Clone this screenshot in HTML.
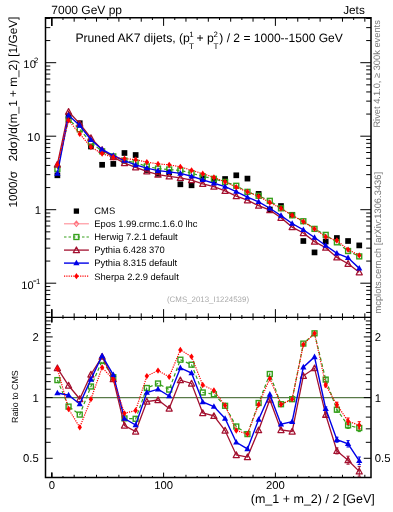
<!DOCTYPE html><html><head><meta charset="utf-8"><style>html,body{margin:0;padding:0;background:#fff;width:393px;height:512px;overflow:hidden}svg{display:block;will-change:transform}text{font-family:"Liberation Sans",sans-serif;text-rendering:geometricPrecision}</style></head><body>
<svg width="393" height="512" viewBox="0 0 393 512">
<line x1="45.5" y1="397.6" x2="371.0" y2="397.6" stroke="#587a48" stroke-width="1.2"/>
<path d="M51.8 17.7v8.2M51.8 317.35v-8.2M51.8 317.35v5M51.8 477.6v-5M62.98 17.7v2.3M62.98 317.35v-2.3M62.98 317.35v1.6M62.98 477.6v-1.6M74.16 17.7v4M74.16 317.35v-4M74.16 317.35v2.8M74.16 477.6v-2.8M85.34 17.7v2.3M85.34 317.35v-2.3M85.34 317.35v1.6M85.34 477.6v-1.6M96.52 17.7v4M96.52 317.35v-4M96.52 317.35v2.8M96.52 477.6v-2.8M107.7 17.7v2.3M107.7 317.35v-2.3M107.7 317.35v1.6M107.7 477.6v-1.6M118.88 17.7v4M118.88 317.35v-4M118.88 317.35v2.8M118.88 477.6v-2.8M130.06 17.7v2.3M130.06 317.35v-2.3M130.06 317.35v1.6M130.06 477.6v-1.6M141.24 17.7v4M141.24 317.35v-4M141.24 317.35v2.8M141.24 477.6v-2.8M152.42 17.7v2.3M152.42 317.35v-2.3M152.42 317.35v1.6M152.42 477.6v-1.6M163.6 17.7v8.2M163.6 317.35v-8.2M163.6 317.35v5M163.6 477.6v-5M174.78 17.7v2.3M174.78 317.35v-2.3M174.78 317.35v1.6M174.78 477.6v-1.6M185.96 17.7v4M185.96 317.35v-4M185.96 317.35v2.8M185.96 477.6v-2.8M197.14 17.7v2.3M197.14 317.35v-2.3M197.14 317.35v1.6M197.14 477.6v-1.6M208.32 17.7v4M208.32 317.35v-4M208.32 317.35v2.8M208.32 477.6v-2.8M219.5 17.7v2.3M219.5 317.35v-2.3M219.5 317.35v1.6M219.5 477.6v-1.6M230.68 17.7v4M230.68 317.35v-4M230.68 317.35v2.8M230.68 477.6v-2.8M241.86 17.7v2.3M241.86 317.35v-2.3M241.86 317.35v1.6M241.86 477.6v-1.6M253.04 17.7v4M253.04 317.35v-4M253.04 317.35v2.8M253.04 477.6v-2.8M264.22 17.7v2.3M264.22 317.35v-2.3M264.22 317.35v1.6M264.22 477.6v-1.6M275.4 17.7v8.2M275.4 317.35v-8.2M275.4 317.35v5M275.4 477.6v-5M286.58 17.7v2.3M286.58 317.35v-2.3M286.58 317.35v1.6M286.58 477.6v-1.6M297.76 17.7v4M297.76 317.35v-4M297.76 317.35v2.8M297.76 477.6v-2.8M308.94 17.7v2.3M308.94 317.35v-2.3M308.94 317.35v1.6M308.94 477.6v-1.6M320.12 17.7v4M320.12 317.35v-4M320.12 317.35v2.8M320.12 477.6v-2.8M331.3 17.7v2.3M331.3 317.35v-2.3M331.3 317.35v1.6M331.3 477.6v-1.6M342.48 17.7v4M342.48 317.35v-4M342.48 317.35v2.8M342.48 477.6v-2.8M353.66 17.7v2.3M353.66 317.35v-2.3M353.66 317.35v1.6M353.66 477.6v-1.6M364.84 17.7v4M364.84 317.35v-4M364.84 317.35v2.8M364.84 477.6v-2.8M45.5 312.45h4.8M371 312.45h-4.8M45.5 305.33h4.8M371 305.33h-4.8M45.5 299.51h4.8M371 299.51h-4.8M45.5 294.59h4.8M371 294.59h-4.8M45.5 290.32h4.8M371 290.32h-4.8M45.5 286.56h4.8M371 286.56h-4.8M45.5 283.2h10.7M371 283.2h-10.7M45.5 261.07h4.8M371 261.07h-4.8M45.5 248.13h4.8M371 248.13h-4.8M45.5 238.95h4.8M371 238.95h-4.8M45.5 231.83h4.8M371 231.83h-4.8M45.5 226.01h4.8M371 226.01h-4.8M45.5 221.09h4.8M371 221.09h-4.8M45.5 216.82h4.8M371 216.82h-4.8M45.5 213.06h4.8M371 213.06h-4.8M45.5 209.7h10.7M371 209.7h-10.7M45.5 187.57h4.8M371 187.57h-4.8M45.5 174.63h4.8M371 174.63h-4.8M45.5 165.45h4.8M371 165.45h-4.8M45.5 158.33h4.8M371 158.33h-4.8M45.5 152.51h4.8M371 152.51h-4.8M45.5 147.59h4.8M371 147.59h-4.8M45.5 143.32h4.8M371 143.32h-4.8M45.5 139.56h4.8M371 139.56h-4.8M45.5 136.2h10.7M371 136.2h-10.7M45.5 114.07h4.8M371 114.07h-4.8M45.5 101.13h4.8M371 101.13h-4.8M45.5 91.95h4.8M371 91.95h-4.8M45.5 84.83h4.8M371 84.83h-4.8M45.5 79.01h4.8M371 79.01h-4.8M45.5 74.09h4.8M371 74.09h-4.8M45.5 69.82h4.8M371 69.82h-4.8M45.5 66.06h4.8M371 66.06h-4.8M45.5 62.7h10.7M371 62.7h-10.7M45.5 40.57h4.8M371 40.57h-4.8M45.5 27.63h4.8M371 27.63h-4.8M45.5 18.45h4.8M371 18.45h-4.8M45.5 458.29h7.2M371 458.29h-7.2M45.5 442.32h5.2M371 442.32h-5.2M45.5 428.83h5.2M371 428.83h-5.2M45.5 417.14h5.2M371 417.14h-5.2M45.5 406.82h5.2M371 406.82h-5.2M45.5 397.6h7.2M371 397.6h-7.2M45.5 389.26h5.2M371 389.26h-5.2M45.5 381.64h5.2M371 381.64h-5.2M45.5 374.63h5.2M371 374.63h-5.2M45.5 368.14h5.2M371 368.14h-5.2M45.5 362.1h5.2M371 362.1h-5.2M45.5 356.45h5.2M371 356.45h-5.2M45.5 351.14h5.2M371 351.14h-5.2M45.5 346.14h5.2M371 346.14h-5.2M45.5 341.4h5.2M371 341.4h-5.2M45.5 336.91h7.2M371 336.91h-7.2M45.5 332.64h5.2M371 332.64h-5.2M45.5 328.57h5.2M371 328.57h-5.2M45.5 324.68h5.2M371 324.68h-5.2M45.5 320.95h5.2M371 320.95h-5.2M45.5 317.38h5.2M371 317.38h-5.2" stroke="#000" stroke-width="1" fill="none"/>
<clipPath id="cm"><rect x="45.5" y="17.7" width="325.5" height="299.65000000000003"/></clipPath>
<clipPath id="cr"><rect x="45.5" y="317.35" width="325.5" height="160.25"/></clipPath>
<g clip-path="url(#cm)">
<rect x="54.54" y="172.45" width="5.7" height="5.7" fill="#000"/>
<rect x="65.72" y="113.35" width="5.7" height="5.7" fill="#000"/>
<rect x="76.9" y="120.35" width="5.7" height="5.7" fill="#000"/>
<rect x="88.08" y="143.65" width="5.7" height="5.7" fill="#000"/>
<rect x="99.26" y="161.95" width="5.7" height="5.7" fill="#000"/>
<rect x="110.44" y="161.05" width="5.7" height="5.7" fill="#000"/>
<rect x="121.62" y="150.15" width="5.7" height="5.7" fill="#000"/>
<rect x="132.8" y="152.15" width="5.7" height="5.7" fill="#000"/>
<rect x="143.98" y="167.15" width="5.7" height="5.7" fill="#000"/>
<rect x="155.16" y="170.95" width="5.7" height="5.7" fill="#000"/>
<rect x="166.34" y="169.65" width="5.7" height="5.7" fill="#000"/>
<rect x="177.52" y="181.45" width="5.7" height="5.7" fill="#000"/>
<rect x="188.7" y="182.45" width="5.7" height="5.7" fill="#000"/>
<rect x="199.88" y="175.45" width="5.7" height="5.7" fill="#000"/>
<rect x="211.06" y="177.25" width="5.7" height="5.7" fill="#000"/>
<rect x="222.24" y="176.15" width="5.7" height="5.7" fill="#000"/>
<rect x="233.42" y="172.45" width="5.7" height="5.7" fill="#000"/>
<rect x="244.6" y="175.75" width="5.7" height="5.7" fill="#000"/>
<rect x="255.78" y="191.05" width="5.7" height="5.7" fill="#000"/>
<rect x="266.96" y="206.65" width="5.7" height="5.7" fill="#000"/>
<rect x="278.14" y="203.15" width="5.7" height="5.7" fill="#000"/>
<rect x="289.32" y="211.95" width="5.7" height="5.7" fill="#000"/>
<rect x="300.5" y="238.15" width="5.7" height="5.7" fill="#000"/>
<rect x="311.68" y="249.55" width="5.7" height="5.7" fill="#000"/>
<rect x="322.86" y="238.65" width="5.7" height="5.7" fill="#000"/>
<rect x="334.04" y="235.15" width="5.7" height="5.7" fill="#000"/>
<rect x="345.22" y="238.15" width="5.7" height="5.7" fill="#000"/>
<rect x="356.4" y="242.55" width="5.7" height="5.7" fill="#000"/>
<polyline points="57.39,168.85 68.57,119.41 79.75,129.33 90.93,142.38 102.11,151.31 113.29,156.39 124.47,160.51 135.65,162.66 146.83,166.43 158.01,168.59 169.19,169.51 180.37,170.41 191.55,173.23 202.73,176.37 213.91,178.82 225.09,181.92 236.27,185.76 247.45,191.83 258.63,195.8 269.81,200.82 280.99,208.33 292.17,215.31 303.35,221.24 314.53,228.88 325.71,234.86 336.89,242.34 348.07,251.03 359.25,256.41" fill="none" stroke="#36a01c" stroke-width="1.2" stroke-dasharray="3.5 2.5"/>
<rect x="54.94" y="166.4" width="4.9" height="4.9" fill="none" stroke="#36a01c" stroke-width="1.4"/>
<rect x="66.12" y="116.96" width="4.9" height="4.9" fill="none" stroke="#36a01c" stroke-width="1.4"/>
<rect x="77.3" y="126.88" width="4.9" height="4.9" fill="none" stroke="#36a01c" stroke-width="1.4"/>
<rect x="88.48" y="139.93" width="4.9" height="4.9" fill="none" stroke="#36a01c" stroke-width="1.4"/>
<rect x="99.66" y="148.86" width="4.9" height="4.9" fill="none" stroke="#36a01c" stroke-width="1.4"/>
<rect x="110.84" y="153.94" width="4.9" height="4.9" fill="none" stroke="#36a01c" stroke-width="1.4"/>
<rect x="122.02" y="158.06" width="4.9" height="4.9" fill="none" stroke="#36a01c" stroke-width="1.4"/>
<rect x="133.2" y="160.21" width="4.9" height="4.9" fill="none" stroke="#36a01c" stroke-width="1.4"/>
<rect x="144.38" y="163.98" width="4.9" height="4.9" fill="none" stroke="#36a01c" stroke-width="1.4"/>
<rect x="155.56" y="166.14" width="4.9" height="4.9" fill="none" stroke="#36a01c" stroke-width="1.4"/>
<rect x="166.74" y="167.06" width="4.9" height="4.9" fill="none" stroke="#36a01c" stroke-width="1.4"/>
<rect x="177.92" y="167.96" width="4.9" height="4.9" fill="none" stroke="#36a01c" stroke-width="1.4"/>
<rect x="189.1" y="170.78" width="4.9" height="4.9" fill="none" stroke="#36a01c" stroke-width="1.4"/>
<rect x="200.28" y="173.92" width="4.9" height="4.9" fill="none" stroke="#36a01c" stroke-width="1.4"/>
<rect x="211.46" y="176.37" width="4.9" height="4.9" fill="none" stroke="#36a01c" stroke-width="1.4"/>
<rect x="222.64" y="179.47" width="4.9" height="4.9" fill="none" stroke="#36a01c" stroke-width="1.4"/>
<rect x="233.82" y="183.31" width="4.9" height="4.9" fill="none" stroke="#36a01c" stroke-width="1.4"/>
<rect x="245" y="189.38" width="4.9" height="4.9" fill="none" stroke="#36a01c" stroke-width="1.4"/>
<rect x="256.18" y="193.35" width="4.9" height="4.9" fill="none" stroke="#36a01c" stroke-width="1.4"/>
<rect x="267.36" y="198.37" width="4.9" height="4.9" fill="none" stroke="#36a01c" stroke-width="1.4"/>
<rect x="278.54" y="205.88" width="4.9" height="4.9" fill="none" stroke="#36a01c" stroke-width="1.4"/>
<rect x="289.72" y="212.86" width="4.9" height="4.9" fill="none" stroke="#36a01c" stroke-width="1.4"/>
<rect x="300.9" y="218.79" width="4.9" height="4.9" fill="none" stroke="#36a01c" stroke-width="1.4"/>
<rect x="312.08" y="226.43" width="4.9" height="4.9" fill="none" stroke="#36a01c" stroke-width="1.4"/>
<rect x="323.26" y="232.41" width="4.9" height="4.9" fill="none" stroke="#36a01c" stroke-width="1.4"/>
<rect x="334.44" y="239.89" width="4.9" height="4.9" fill="none" stroke="#36a01c" stroke-width="1.4"/>
<rect x="345.62" y="248.58" width="4.9" height="4.9" fill="none" stroke="#36a01c" stroke-width="1.4"/>
<rect x="356.8" y="253.96" width="4.9" height="4.9" fill="none" stroke="#36a01c" stroke-width="1.4"/>
<polyline points="57.39,164.47 68.57,111.72 79.75,123.64 90.93,138.01 102.11,149.82 113.29,157.08 124.47,163.1 135.65,167.29 146.83,171.35 158.01,174.6 169.19,176.4 180.37,177.88 191.55,180.09 202.73,183.84 213.91,186.7 225.09,190.92 236.27,196.15 247.45,200.22 258.63,205.71 269.81,210.19 280.99,217.74 292.17,227.09 303.35,232.98 314.53,241.61 325.71,247.7 336.89,257.36 348.07,263.75 359.25,272.23" fill="none" stroke="#a3102f" stroke-width="1.3"/>
<path d="M57.39 161.39L60.44 167H54.34Z" fill="none" stroke="#a3102f" stroke-width="1.25" stroke-linejoin="round"/>
<path d="M68.57 108.63L71.62 114.24H65.52Z" fill="none" stroke="#a3102f" stroke-width="1.25" stroke-linejoin="round"/>
<path d="M79.75 120.55L82.8 126.16H76.7Z" fill="none" stroke="#a3102f" stroke-width="1.25" stroke-linejoin="round"/>
<path d="M90.93 134.92L93.98 140.53H87.88Z" fill="none" stroke="#a3102f" stroke-width="1.25" stroke-linejoin="round"/>
<path d="M102.11 146.73L105.16 152.34H99.06Z" fill="none" stroke="#a3102f" stroke-width="1.25" stroke-linejoin="round"/>
<path d="M113.29 154L116.34 159.61H110.24Z" fill="none" stroke="#a3102f" stroke-width="1.25" stroke-linejoin="round"/>
<path d="M124.47 160.01L127.52 165.62H121.42Z" fill="none" stroke="#a3102f" stroke-width="1.25" stroke-linejoin="round"/>
<path d="M135.65 164.2L138.7 169.81H132.6Z" fill="none" stroke="#a3102f" stroke-width="1.25" stroke-linejoin="round"/>
<path d="M146.83 168.26L149.88 173.87H143.78Z" fill="none" stroke="#a3102f" stroke-width="1.25" stroke-linejoin="round"/>
<path d="M158.01 171.52L161.06 177.13H154.96Z" fill="none" stroke="#a3102f" stroke-width="1.25" stroke-linejoin="round"/>
<path d="M169.19 173.31L172.24 178.93H166.14Z" fill="none" stroke="#a3102f" stroke-width="1.25" stroke-linejoin="round"/>
<path d="M180.37 174.8L183.42 180.41H177.32Z" fill="none" stroke="#a3102f" stroke-width="1.25" stroke-linejoin="round"/>
<path d="M191.55 177L194.6 182.61H188.5Z" fill="none" stroke="#a3102f" stroke-width="1.25" stroke-linejoin="round"/>
<path d="M202.73 180.76L205.78 186.37H199.68Z" fill="none" stroke="#a3102f" stroke-width="1.25" stroke-linejoin="round"/>
<path d="M213.91 183.61L216.96 189.22H210.86Z" fill="none" stroke="#a3102f" stroke-width="1.25" stroke-linejoin="round"/>
<path d="M225.09 187.84L228.14 193.45H222.04Z" fill="none" stroke="#a3102f" stroke-width="1.25" stroke-linejoin="round"/>
<path d="M236.27 193.07L239.32 198.68H233.22Z" fill="none" stroke="#a3102f" stroke-width="1.25" stroke-linejoin="round"/>
<path d="M247.45 197.13L250.5 202.75H244.4Z" fill="none" stroke="#a3102f" stroke-width="1.25" stroke-linejoin="round"/>
<path d="M258.63 202.63L261.68 208.24H255.58Z" fill="none" stroke="#a3102f" stroke-width="1.25" stroke-linejoin="round"/>
<path d="M269.81 207.11L272.86 212.72H266.76Z" fill="none" stroke="#a3102f" stroke-width="1.25" stroke-linejoin="round"/>
<path d="M280.99 214.65L284.04 220.26H277.94Z" fill="none" stroke="#a3102f" stroke-width="1.25" stroke-linejoin="round"/>
<path d="M292.17 224L295.22 229.61H289.12Z" fill="none" stroke="#a3102f" stroke-width="1.25" stroke-linejoin="round"/>
<path d="M303.35 229.89L306.4 235.5H300.3Z" fill="none" stroke="#a3102f" stroke-width="1.25" stroke-linejoin="round"/>
<path d="M314.53 238.52L317.58 244.13H311.48Z" fill="none" stroke="#a3102f" stroke-width="1.25" stroke-linejoin="round"/>
<path d="M325.71 244.61L328.76 250.22H322.66Z" fill="none" stroke="#a3102f" stroke-width="1.25" stroke-linejoin="round"/>
<path d="M336.89 254.27L339.94 259.88H333.84Z" fill="none" stroke="#a3102f" stroke-width="1.25" stroke-linejoin="round"/>
<path d="M348.07 260.66L351.12 266.28H345.02Z" fill="none" stroke="#a3102f" stroke-width="1.25" stroke-linejoin="round"/>
<path d="M359.25 269.15L362.3 274.76H356.2Z" fill="none" stroke="#a3102f" stroke-width="1.25" stroke-linejoin="round"/>
<polyline points="57.39,173.55 68.57,115.25 79.75,125.46 90.93,139.79 102.11,149.49 113.29,155.51 124.47,160.55 135.65,164.92 146.83,168.07 158.01,170.66 169.19,171.84 180.37,173.4 191.55,176.29 202.73,179.83 213.91,183.27 225.09,186.55 236.27,191.52 247.45,197.23 258.63,201.81 269.81,208.26 280.99,215.62 292.17,223.51 303.35,229.84 314.53,237.49 325.71,245.47 336.89,253.28 348.07,257.77 359.25,268.37" fill="none" stroke="#0000e8" stroke-width="1.4"/>
<path d="M57.39 170.2L60.49 175.78H54.29Z" fill="#0000e8"/>
<path d="M68.57 111.9L71.67 117.48H65.47Z" fill="#0000e8"/>
<path d="M79.75 122.11L82.85 127.69H76.65Z" fill="#0000e8"/>
<path d="M90.93 136.44L94.03 142.02H87.83Z" fill="#0000e8"/>
<path d="M102.11 146.14L105.21 151.72H99.01Z" fill="#0000e8"/>
<path d="M113.29 152.17L116.39 157.75H110.19Z" fill="#0000e8"/>
<path d="M124.47 157.2L127.57 162.78H121.37Z" fill="#0000e8"/>
<path d="M135.65 161.57L138.75 167.15H132.55Z" fill="#0000e8"/>
<path d="M146.83 164.72L149.93 170.3H143.73Z" fill="#0000e8"/>
<path d="M158.01 167.32L161.11 172.9H154.91Z" fill="#0000e8"/>
<path d="M169.19 168.5L172.29 174.08H166.09Z" fill="#0000e8"/>
<path d="M180.37 170.05L183.47 175.63H177.27Z" fill="#0000e8"/>
<path d="M191.55 172.95L194.65 178.53H188.45Z" fill="#0000e8"/>
<path d="M202.73 176.48L205.83 182.06H199.63Z" fill="#0000e8"/>
<path d="M213.91 179.92L217.01 185.5H210.81Z" fill="#0000e8"/>
<path d="M225.09 183.2L228.19 188.78H221.99Z" fill="#0000e8"/>
<path d="M236.27 188.18L239.37 193.76H233.17Z" fill="#0000e8"/>
<path d="M247.45 193.88L250.55 199.46H244.35Z" fill="#0000e8"/>
<path d="M258.63 198.46L261.73 204.04H255.53Z" fill="#0000e8"/>
<path d="M269.81 204.91L272.91 210.49H266.71Z" fill="#0000e8"/>
<path d="M280.99 212.28L284.09 217.86H277.89Z" fill="#0000e8"/>
<path d="M292.17 220.17L295.27 225.75H289.07Z" fill="#0000e8"/>
<path d="M303.35 226.5L306.45 232.08H300.25Z" fill="#0000e8"/>
<path d="M314.53 234.14L317.63 239.72H311.43Z" fill="#0000e8"/>
<path d="M325.71 242.13L328.81 247.71H322.61Z" fill="#0000e8"/>
<path d="M336.89 249.93L339.99 255.51H333.79Z" fill="#0000e8"/>
<path d="M348.07 254.42L351.17 260H344.97Z" fill="#0000e8"/>
<path d="M359.25 265.02L362.35 270.6H356.15Z" fill="#0000e8"/>
<polyline points="57.39,164.65 68.57,120.28 79.75,133.96 90.93,147.01 102.11,153.72 113.29,157.26 124.47,158.65 135.65,159.63 146.83,162.09 158.01,163.88 169.19,164.84 180.37,166.84 191.55,170.32 202.73,173.63 213.91,177.44 225.09,181.81 236.27,187.22 247.45,191.83 258.63,196.34 269.81,202.5 280.99,208.44 292.17,215.31 303.35,221.6 314.53,228.88 325.71,236.87 336.89,240.52 348.07,249.53 359.25,255.43" fill="none" stroke="#ff0000" stroke-width="1.2" stroke-dasharray="1.2 1.1"/>
<path d="M57.39 161.5L59.59 164.65L57.39 167.8L55.19 164.65Z" fill="#ff0000"/>
<path d="M68.57 117.13L70.77 120.28L68.57 123.43L66.37 120.28Z" fill="#ff0000"/>
<path d="M79.75 130.81L81.95 133.96L79.75 137.11L77.55 133.96Z" fill="#ff0000"/>
<path d="M90.93 143.86L93.13 147.01L90.93 150.16L88.73 147.01Z" fill="#ff0000"/>
<path d="M102.11 150.57L104.31 153.72L102.11 156.87L99.91 153.72Z" fill="#ff0000"/>
<path d="M113.29 154.11L115.49 157.26L113.29 160.41L111.09 157.26Z" fill="#ff0000"/>
<path d="M124.47 155.5L126.67 158.65L124.47 161.8L122.27 158.65Z" fill="#ff0000"/>
<path d="M135.65 156.48L137.85 159.63L135.65 162.78L133.45 159.63Z" fill="#ff0000"/>
<path d="M146.83 158.94L149.03 162.09L146.83 165.24L144.63 162.09Z" fill="#ff0000"/>
<path d="M158.01 160.73L160.21 163.88L158.01 167.03L155.81 163.88Z" fill="#ff0000"/>
<path d="M169.19 161.69L171.39 164.84L169.19 167.99L166.99 164.84Z" fill="#ff0000"/>
<path d="M180.37 163.69L182.57 166.84L180.37 169.99L178.17 166.84Z" fill="#ff0000"/>
<path d="M191.55 167.17L193.75 170.32L191.55 173.47L189.35 170.32Z" fill="#ff0000"/>
<path d="M202.73 170.48L204.93 173.63L202.73 176.78L200.53 173.63Z" fill="#ff0000"/>
<path d="M213.91 174.29L216.11 177.44L213.91 180.59L211.71 177.44Z" fill="#ff0000"/>
<path d="M225.09 178.66L227.29 181.81L225.09 184.96L222.89 181.81Z" fill="#ff0000"/>
<path d="M236.27 184.07L238.47 187.22L236.27 190.37L234.07 187.22Z" fill="#ff0000"/>
<path d="M247.45 188.68L249.65 191.83L247.45 194.98L245.25 191.83Z" fill="#ff0000"/>
<path d="M258.63 193.19L260.83 196.34L258.63 199.49L256.43 196.34Z" fill="#ff0000"/>
<path d="M269.81 199.35L272.01 202.5L269.81 205.65L267.61 202.5Z" fill="#ff0000"/>
<path d="M280.99 205.29L283.19 208.44L280.99 211.59L278.79 208.44Z" fill="#ff0000"/>
<path d="M292.17 212.16L294.37 215.31L292.17 218.46L289.97 215.31Z" fill="#ff0000"/>
<path d="M303.35 218.45L305.55 221.6L303.35 224.75L301.15 221.6Z" fill="#ff0000"/>
<path d="M314.53 225.73L316.73 228.88L314.53 232.03L312.33 228.88Z" fill="#ff0000"/>
<path d="M325.71 233.72L327.91 236.87L325.71 240.02L323.51 236.87Z" fill="#ff0000"/>
<path d="M336.89 237.37L339.09 240.52L336.89 243.67L334.69 240.52Z" fill="#ff0000"/>
<path d="M348.07 246.38L350.27 249.53L348.07 252.68L345.87 249.53Z" fill="#ff0000"/>
<path d="M359.25 252.28L361.45 255.43L359.25 258.58L357.05 255.43Z" fill="#ff0000"/>
</g>
<g clip-path="url(#cr)">
<path d="M325.71 377.8V381.4M324.11 377.8h3.2M324.11 381.4h3.2M336.89 407.2V412.2M335.29 407.2h3.2M335.29 412.2h3.2M348.07 422.1V428.5M346.47 422.1h3.2M346.47 428.5h3.2M359.25 424.4V431.6M357.65 424.4h3.2M357.65 431.6h3.2" stroke="#36a01c" stroke-width="1.0" fill="none"/>
<polyline points="57.39,380.1 68.57,406.6 79.75,414.6 90.93,386.5 102.11,360.8 113.29,377.2 124.47,418.4 135.65,418.8 146.83,388 158.01,383.5 169.19,389.6 180.37,359.7 191.55,364.7 202.73,392.5 213.91,394.3 225.09,405.8 236.27,426.5 247.45,434.1 258.63,403 269.81,374 280.99,404.2 292.17,399.2 303.35,343.6 314.53,333.3 325.71,379.6 336.89,409.7 348.07,425.3 359.25,428" fill="none" stroke="#36a01c" stroke-width="1.2" stroke-dasharray="3.5 2.5"/>
<rect x="54.94" y="377.65" width="4.9" height="4.9" fill="none" stroke="#36a01c" stroke-width="1.4"/>
<rect x="66.12" y="404.15" width="4.9" height="4.9" fill="none" stroke="#36a01c" stroke-width="1.4"/>
<rect x="77.3" y="412.15" width="4.9" height="4.9" fill="none" stroke="#36a01c" stroke-width="1.4"/>
<rect x="88.48" y="384.05" width="4.9" height="4.9" fill="none" stroke="#36a01c" stroke-width="1.4"/>
<rect x="99.66" y="358.35" width="4.9" height="4.9" fill="none" stroke="#36a01c" stroke-width="1.4"/>
<rect x="110.84" y="374.75" width="4.9" height="4.9" fill="none" stroke="#36a01c" stroke-width="1.4"/>
<rect x="122.02" y="415.95" width="4.9" height="4.9" fill="none" stroke="#36a01c" stroke-width="1.4"/>
<rect x="133.2" y="416.35" width="4.9" height="4.9" fill="none" stroke="#36a01c" stroke-width="1.4"/>
<rect x="144.38" y="385.55" width="4.9" height="4.9" fill="none" stroke="#36a01c" stroke-width="1.4"/>
<rect x="155.56" y="381.05" width="4.9" height="4.9" fill="none" stroke="#36a01c" stroke-width="1.4"/>
<rect x="166.74" y="387.15" width="4.9" height="4.9" fill="none" stroke="#36a01c" stroke-width="1.4"/>
<rect x="177.92" y="357.25" width="4.9" height="4.9" fill="none" stroke="#36a01c" stroke-width="1.4"/>
<rect x="189.1" y="362.25" width="4.9" height="4.9" fill="none" stroke="#36a01c" stroke-width="1.4"/>
<rect x="200.28" y="390.05" width="4.9" height="4.9" fill="none" stroke="#36a01c" stroke-width="1.4"/>
<rect x="211.46" y="391.85" width="4.9" height="4.9" fill="none" stroke="#36a01c" stroke-width="1.4"/>
<rect x="222.64" y="403.35" width="4.9" height="4.9" fill="none" stroke="#36a01c" stroke-width="1.4"/>
<rect x="233.82" y="424.05" width="4.9" height="4.9" fill="none" stroke="#36a01c" stroke-width="1.4"/>
<rect x="245" y="431.65" width="4.9" height="4.9" fill="none" stroke="#36a01c" stroke-width="1.4"/>
<rect x="256.18" y="400.55" width="4.9" height="4.9" fill="none" stroke="#36a01c" stroke-width="1.4"/>
<rect x="267.36" y="371.55" width="4.9" height="4.9" fill="none" stroke="#36a01c" stroke-width="1.4"/>
<rect x="278.54" y="401.75" width="4.9" height="4.9" fill="none" stroke="#36a01c" stroke-width="1.4"/>
<rect x="289.72" y="396.75" width="4.9" height="4.9" fill="none" stroke="#36a01c" stroke-width="1.4"/>
<rect x="300.9" y="341.15" width="4.9" height="4.9" fill="none" stroke="#36a01c" stroke-width="1.4"/>
<rect x="312.08" y="330.85" width="4.9" height="4.9" fill="none" stroke="#36a01c" stroke-width="1.4"/>
<rect x="323.26" y="377.15" width="4.9" height="4.9" fill="none" stroke="#36a01c" stroke-width="1.4"/>
<rect x="334.44" y="407.25" width="4.9" height="4.9" fill="none" stroke="#36a01c" stroke-width="1.4"/>
<rect x="345.62" y="422.85" width="4.9" height="4.9" fill="none" stroke="#36a01c" stroke-width="1.4"/>
<rect x="356.8" y="425.55" width="4.9" height="4.9" fill="none" stroke="#36a01c" stroke-width="1.4"/>
<path d="M325.71 412.6V417M324.11 412.6h3.2M324.11 417h3.2M336.89 447.9V453.9M335.29 447.9h3.2M335.29 453.9h3.2M348.07 456.2V464.2M346.47 456.2h3.2M346.47 464.2h3.2M359.25 466.6V476.2M357.65 466.6h3.2M357.65 476.2h3.2" stroke="#a3102f" stroke-width="1.0" fill="none"/>
<polyline points="57.39,368.1 68.57,385.5 79.75,399 90.93,374.5 102.11,356.7 113.29,379.1 124.47,425.5 135.65,431.5 146.83,401.5 158.01,400 169.19,408.5 180.37,380.2 191.55,383.5 202.73,413 213.91,415.9 225.09,430.5 236.27,455 247.45,457.1 258.63,430.2 269.81,399.7 280.99,430 292.17,431.5 303.35,375.8 314.53,368.2 325.71,414.8 336.89,450.9 348.07,460.2 359.25,471.4" fill="none" stroke="#a3102f" stroke-width="1.3"/>
<path d="M57.39 365.01L60.44 370.63H54.34Z" fill="none" stroke="#a3102f" stroke-width="1.25" stroke-linejoin="round"/>
<path d="M68.57 382.41L71.62 388.03H65.52Z" fill="none" stroke="#a3102f" stroke-width="1.25" stroke-linejoin="round"/>
<path d="M79.75 395.91L82.8 401.53H76.7Z" fill="none" stroke="#a3102f" stroke-width="1.25" stroke-linejoin="round"/>
<path d="M90.93 371.41L93.98 377.03H87.88Z" fill="none" stroke="#a3102f" stroke-width="1.25" stroke-linejoin="round"/>
<path d="M102.11 353.61L105.16 359.23H99.06Z" fill="none" stroke="#a3102f" stroke-width="1.25" stroke-linejoin="round"/>
<path d="M113.29 376.01L116.34 381.63H110.24Z" fill="none" stroke="#a3102f" stroke-width="1.25" stroke-linejoin="round"/>
<path d="M124.47 422.41L127.52 428.03H121.42Z" fill="none" stroke="#a3102f" stroke-width="1.25" stroke-linejoin="round"/>
<path d="M135.65 428.41L138.7 434.03H132.6Z" fill="none" stroke="#a3102f" stroke-width="1.25" stroke-linejoin="round"/>
<path d="M146.83 398.41L149.88 404.03H143.78Z" fill="none" stroke="#a3102f" stroke-width="1.25" stroke-linejoin="round"/>
<path d="M158.01 396.91L161.06 402.53H154.96Z" fill="none" stroke="#a3102f" stroke-width="1.25" stroke-linejoin="round"/>
<path d="M169.19 405.41L172.24 411.03H166.14Z" fill="none" stroke="#a3102f" stroke-width="1.25" stroke-linejoin="round"/>
<path d="M180.37 377.11L183.42 382.73H177.32Z" fill="none" stroke="#a3102f" stroke-width="1.25" stroke-linejoin="round"/>
<path d="M191.55 380.41L194.6 386.03H188.5Z" fill="none" stroke="#a3102f" stroke-width="1.25" stroke-linejoin="round"/>
<path d="M202.73 409.91L205.78 415.53H199.68Z" fill="none" stroke="#a3102f" stroke-width="1.25" stroke-linejoin="round"/>
<path d="M213.91 412.81L216.96 418.43H210.86Z" fill="none" stroke="#a3102f" stroke-width="1.25" stroke-linejoin="round"/>
<path d="M225.09 427.41L228.14 433.03H222.04Z" fill="none" stroke="#a3102f" stroke-width="1.25" stroke-linejoin="round"/>
<path d="M236.27 451.91L239.32 457.53H233.22Z" fill="none" stroke="#a3102f" stroke-width="1.25" stroke-linejoin="round"/>
<path d="M247.45 454.01L250.5 459.63H244.4Z" fill="none" stroke="#a3102f" stroke-width="1.25" stroke-linejoin="round"/>
<path d="M258.63 427.11L261.68 432.73H255.58Z" fill="none" stroke="#a3102f" stroke-width="1.25" stroke-linejoin="round"/>
<path d="M269.81 396.61L272.86 402.23H266.76Z" fill="none" stroke="#a3102f" stroke-width="1.25" stroke-linejoin="round"/>
<path d="M280.99 426.91L284.04 432.53H277.94Z" fill="none" stroke="#a3102f" stroke-width="1.25" stroke-linejoin="round"/>
<path d="M292.17 428.41L295.22 434.03H289.12Z" fill="none" stroke="#a3102f" stroke-width="1.25" stroke-linejoin="round"/>
<path d="M303.35 372.71L306.4 378.33H300.3Z" fill="none" stroke="#a3102f" stroke-width="1.25" stroke-linejoin="round"/>
<path d="M314.53 365.11L317.58 370.73H311.48Z" fill="none" stroke="#a3102f" stroke-width="1.25" stroke-linejoin="round"/>
<path d="M325.71 411.71L328.76 417.33H322.66Z" fill="none" stroke="#a3102f" stroke-width="1.25" stroke-linejoin="round"/>
<path d="M336.89 447.81L339.94 453.43H333.84Z" fill="none" stroke="#a3102f" stroke-width="1.25" stroke-linejoin="round"/>
<path d="M348.07 457.11L351.12 462.73H345.02Z" fill="none" stroke="#a3102f" stroke-width="1.25" stroke-linejoin="round"/>
<path d="M359.25 468.31L362.3 473.93H356.2Z" fill="none" stroke="#a3102f" stroke-width="1.25" stroke-linejoin="round"/>
<path d="M325.71 406.9V410.5M324.11 406.9h3.2M324.11 410.5h3.2M336.89 437.2V442.2M335.29 437.2h3.2M335.29 442.2h3.2M348.07 440.6V447M346.47 440.6h3.2M346.47 447h3.2M359.25 457V464.6M357.65 457h3.2M357.65 464.6h3.2" stroke="#0000e8" stroke-width="1.0" fill="none"/>
<polyline points="57.39,393 68.57,395.2 79.75,404 90.93,379.4 102.11,355.8 113.29,374.8 124.47,418.5 135.65,425 146.83,392.5 158.01,389.2 169.19,396 180.37,367.9 191.55,373.1 202.73,402 213.91,406.5 225.09,418.5 236.27,442.3 247.45,448.9 258.63,419.5 269.81,394.4 280.99,424.2 292.17,421.7 303.35,367.2 314.53,356.9 325.71,408.7 336.89,439.7 348.07,443.8 359.25,460.8" fill="none" stroke="#0000e8" stroke-width="1.4"/>
<path d="M57.39 389.65L60.49 395.23H54.29Z" fill="#0000e8"/>
<path d="M68.57 391.85L71.67 397.43H65.47Z" fill="#0000e8"/>
<path d="M79.75 400.65L82.85 406.23H76.65Z" fill="#0000e8"/>
<path d="M90.93 376.05L94.03 381.63H87.83Z" fill="#0000e8"/>
<path d="M102.11 352.45L105.21 358.03H99.01Z" fill="#0000e8"/>
<path d="M113.29 371.45L116.39 377.03H110.19Z" fill="#0000e8"/>
<path d="M124.47 415.15L127.57 420.73H121.37Z" fill="#0000e8"/>
<path d="M135.65 421.65L138.75 427.23H132.55Z" fill="#0000e8"/>
<path d="M146.83 389.15L149.93 394.73H143.73Z" fill="#0000e8"/>
<path d="M158.01 385.85L161.11 391.43H154.91Z" fill="#0000e8"/>
<path d="M169.19 392.65L172.29 398.23H166.09Z" fill="#0000e8"/>
<path d="M180.37 364.55L183.47 370.13H177.27Z" fill="#0000e8"/>
<path d="M191.55 369.75L194.65 375.33H188.45Z" fill="#0000e8"/>
<path d="M202.73 398.65L205.83 404.23H199.63Z" fill="#0000e8"/>
<path d="M213.91 403.15L217.01 408.73H210.81Z" fill="#0000e8"/>
<path d="M225.09 415.15L228.19 420.73H221.99Z" fill="#0000e8"/>
<path d="M236.27 438.95L239.37 444.53H233.17Z" fill="#0000e8"/>
<path d="M247.45 445.55L250.55 451.13H244.35Z" fill="#0000e8"/>
<path d="M258.63 416.15L261.73 421.73H255.53Z" fill="#0000e8"/>
<path d="M269.81 391.05L272.91 396.63H266.71Z" fill="#0000e8"/>
<path d="M280.99 420.85L284.09 426.43H277.89Z" fill="#0000e8"/>
<path d="M292.17 418.35L295.27 423.93H289.07Z" fill="#0000e8"/>
<path d="M303.35 363.85L306.45 369.43H300.25Z" fill="#0000e8"/>
<path d="M314.53 353.55L317.63 359.13H311.43Z" fill="#0000e8"/>
<path d="M325.71 405.35L328.81 410.93H322.61Z" fill="#0000e8"/>
<path d="M336.89 436.35L339.99 441.93H333.79Z" fill="#0000e8"/>
<path d="M348.07 440.45L351.17 446.03H344.97Z" fill="#0000e8"/>
<path d="M359.25 457.45L362.35 463.03H356.15Z" fill="#0000e8"/>
<path d="M325.71 383.3V386.9M324.11 383.3h3.2M324.11 386.9h3.2M336.89 402.2V407.2M335.29 402.2h3.2M335.29 407.2h3.2M348.07 418V424.4M346.47 418h3.2M346.47 424.4h3.2M359.25 421.7V428.9M357.65 421.7h3.2M357.65 428.9h3.2" stroke="#ff0000" stroke-width="1.0" fill="none"/>
<polyline points="57.39,368.6 68.57,409 79.75,427.3 90.93,399.2 102.11,367.4 113.29,379.6 124.47,413.3 135.65,410.5 146.83,376.1 158.01,370.6 169.19,376.8 180.37,349.9 191.55,356.7 202.73,385 213.91,390.5 225.09,405.5 236.27,430.5 247.45,434.1 258.63,404.5 269.81,378.6 280.99,404.5 292.17,399.2 303.35,344.6 314.53,333.3 325.71,385.1 336.89,404.7 348.07,421.2 359.25,425.3" fill="none" stroke="#ff0000" stroke-width="1.2" stroke-dasharray="1.2 1.1"/>
<path d="M57.39 365.45L59.59 368.6L57.39 371.75L55.19 368.6Z" fill="#ff0000"/>
<path d="M68.57 405.85L70.77 409L68.57 412.15L66.37 409Z" fill="#ff0000"/>
<path d="M79.75 424.15L81.95 427.3L79.75 430.45L77.55 427.3Z" fill="#ff0000"/>
<path d="M90.93 396.05L93.13 399.2L90.93 402.35L88.73 399.2Z" fill="#ff0000"/>
<path d="M102.11 364.25L104.31 367.4L102.11 370.55L99.91 367.4Z" fill="#ff0000"/>
<path d="M113.29 376.45L115.49 379.6L113.29 382.75L111.09 379.6Z" fill="#ff0000"/>
<path d="M124.47 410.15L126.67 413.3L124.47 416.45L122.27 413.3Z" fill="#ff0000"/>
<path d="M135.65 407.35L137.85 410.5L135.65 413.65L133.45 410.5Z" fill="#ff0000"/>
<path d="M146.83 372.95L149.03 376.1L146.83 379.25L144.63 376.1Z" fill="#ff0000"/>
<path d="M158.01 367.45L160.21 370.6L158.01 373.75L155.81 370.6Z" fill="#ff0000"/>
<path d="M169.19 373.65L171.39 376.8L169.19 379.95L166.99 376.8Z" fill="#ff0000"/>
<path d="M180.37 346.75L182.57 349.9L180.37 353.05L178.17 349.9Z" fill="#ff0000"/>
<path d="M191.55 353.55L193.75 356.7L191.55 359.85L189.35 356.7Z" fill="#ff0000"/>
<path d="M202.73 381.85L204.93 385L202.73 388.15L200.53 385Z" fill="#ff0000"/>
<path d="M213.91 387.35L216.11 390.5L213.91 393.65L211.71 390.5Z" fill="#ff0000"/>
<path d="M225.09 402.35L227.29 405.5L225.09 408.65L222.89 405.5Z" fill="#ff0000"/>
<path d="M236.27 427.35L238.47 430.5L236.27 433.65L234.07 430.5Z" fill="#ff0000"/>
<path d="M247.45 430.95L249.65 434.1L247.45 437.25L245.25 434.1Z" fill="#ff0000"/>
<path d="M258.63 401.35L260.83 404.5L258.63 407.65L256.43 404.5Z" fill="#ff0000"/>
<path d="M269.81 375.45L272.01 378.6L269.81 381.75L267.61 378.6Z" fill="#ff0000"/>
<path d="M280.99 401.35L283.19 404.5L280.99 407.65L278.79 404.5Z" fill="#ff0000"/>
<path d="M292.17 396.05L294.37 399.2L292.17 402.35L289.97 399.2Z" fill="#ff0000"/>
<path d="M303.35 341.45L305.55 344.6L303.35 347.75L301.15 344.6Z" fill="#ff0000"/>
<path d="M314.53 330.15L316.73 333.3L314.53 336.45L312.33 333.3Z" fill="#ff0000"/>
<path d="M325.71 381.95L327.91 385.1L325.71 388.25L323.51 385.1Z" fill="#ff0000"/>
<path d="M336.89 401.55L339.09 404.7L336.89 407.85L334.69 404.7Z" fill="#ff0000"/>
<path d="M348.07 418.05L350.27 421.2L348.07 424.35L345.87 421.2Z" fill="#ff0000"/>
<path d="M359.25 422.15L361.45 425.3L359.25 428.45L357.05 425.3Z" fill="#ff0000"/>
</g>
<path d="M45.5 17.7H371.0V477.6H45.5Z" fill="none" stroke="#000" stroke-width="1.5"/>
<line x1="45.5" y1="317.35" x2="371.0" y2="317.35" stroke="#000" stroke-width="1.1"/>
<path d="M51.8 309.3V322.6M51.8 17.7v8.2M51.8 477.6v-5" stroke="#000" stroke-width="1.5"/>
<text x="94.3" y="214.4" font-size="9.4">CMS</text>
<text x="94.3" y="227.1" font-size="9.4">Epos 1.99.crmc.1.6.0 lhc</text>
<text x="94.3" y="240.3" font-size="9.4">Herwig 7.2.1 default</text>
<text x="94.3" y="253.4" font-size="9.4">Pythia 6.428 370</text>
<text x="94.3" y="266.4" font-size="9.4">Pythia 8.315 default</text>
<text x="94.3" y="279.5" font-size="9.4">Sherpa 2.2.9 default</text>
<rect x="73.75" y="208.45" width="5.3" height="5.3" fill="#000"/>
<line x1="64.0" y1="223.8" x2="88.9" y2="223.8" stroke="#ff8c96" stroke-width="1.1"/>
<path d="M76.4 221.1L78.60000000000001 223.8L76.4 226.5L74.2 223.8Z" fill="none" stroke="#ff707c" stroke-width="1.1"/>
<line x1="64.0" y1="237" x2="88.9" y2="237" stroke="#36a01c" stroke-width="1.2" stroke-dasharray="2.5 2"/>
<rect x="73.95" y="234.55" width="4.9" height="4.9" fill="none" stroke="#36a01c" stroke-width="1.4"/>
<line x1="64.0" y1="250.1" x2="88.9" y2="250.1" stroke="#a3102f" stroke-width="1.3"/>
<path d="M76.4 247.01L79.45 252.63H73.35Z" fill="none" stroke="#a3102f" stroke-width="1.25" stroke-linejoin="round"/>
<line x1="64.0" y1="263.1" x2="88.9" y2="263.1" stroke="#0000e8" stroke-width="1.4"/>
<path d="M76.4 259.75L79.5 265.33H73.3Z" fill="#0000e8"/>
<line x1="64.0" y1="276.2" x2="88.9" y2="276.2" stroke="#ff0000" stroke-width="1.2" stroke-dasharray="1.2 1.1"/>
<path d="M76.4 273.05L78.6 276.2L76.4 279.35L74.2 276.2Z" fill="#ff0000"/>
<text x="51.3" y="13.7" font-size="12">7000 GeV pp</text>
<text x="364.8" y="13.7" font-size="11.8" text-anchor="end">Jets</text>
<text x="75.4" y="41.8" font-size="12.2">Pruned AK7 dijets, (p</text>
<text x="189.3" y="37.0" font-size="7.8">1</text>
<text x="188.9" y="48.9" font-size="8.1">T</text>
<text x="196.6" y="41.8" font-size="12.2">+ p</text>
<text x="213.4" y="37.4" font-size="7.8">2</text>
<text x="213.6" y="48.9" font-size="8.1">T</text>
<text x="219.3" y="41.8" font-size="12.05">) / 2 = 1000--1500 GeV</text>
<text x="23.3" y="67.9" font-size="11.2" letter-spacing="0.3">10</text>
<text x="34.0" y="63.0" font-size="7.8">2</text>
<text x="27.2" y="141.0" font-size="11.3" letter-spacing="0.6">10</text>
<text x="34.8" y="213.9" font-size="11.3">1</text>
<text x="21.3" y="289.0" font-size="11.0">10</text>
<rect x="33.3" y="280.6" width="2.9" height="0.9" fill="#000"/>
<text x="36.0" y="284.0" font-size="7.8">1</text>
<text x="38.8" y="340.91" font-size="11.3" text-anchor="end">2</text>
<text x="374.8" y="340.91" font-size="11.3">2</text>
<text x="38.8" y="401.6" font-size="11.3" text-anchor="end">1</text>
<text x="374.8" y="401.6" font-size="11.3">1</text>
<text x="38.8" y="462.29" font-size="11.3" text-anchor="end">0.5</text>
<text x="374.8" y="462.29" font-size="11.3">0.5</text>
<text x="51.8" y="489" font-size="11.3" text-anchor="middle">0</text>
<text x="163.6" y="489" font-size="11.3" text-anchor="middle">100</text>
<text x="275.4" y="489" font-size="11.3" text-anchor="middle">200</text>
<text x="374.8" y="503.4" font-size="12.5" text-anchor="end">(m_1 + m_2) / 2 [GeV]</text>
<text transform="translate(16.5 207.6) rotate(-90)" font-size="11.7">1000/σ</text>
<text transform="translate(16.5 161.3) rotate(-90)" font-size="11.8">2dσ)/d(m_1 + m_2) [1/GeV]</text>
<text transform="translate(18.2 423) rotate(-90)" font-size="8.9">Ratio to CMS</text>
<text transform="translate(380.0 127.6) rotate(-90)" font-size="9.3" fill="#777">Rivet 4.1.0, ≥ 300k events</text>
<text transform="translate(380.6 313.6) rotate(-90)" font-size="9.4" fill="#777">mcplots.cern.ch [arXiv:1306.3436]</text>
<text x="208" y="301.6" font-size="7.9" fill="#aaa" text-anchor="middle">(CMS_2013_I1224539)</text>
</svg></body></html>
